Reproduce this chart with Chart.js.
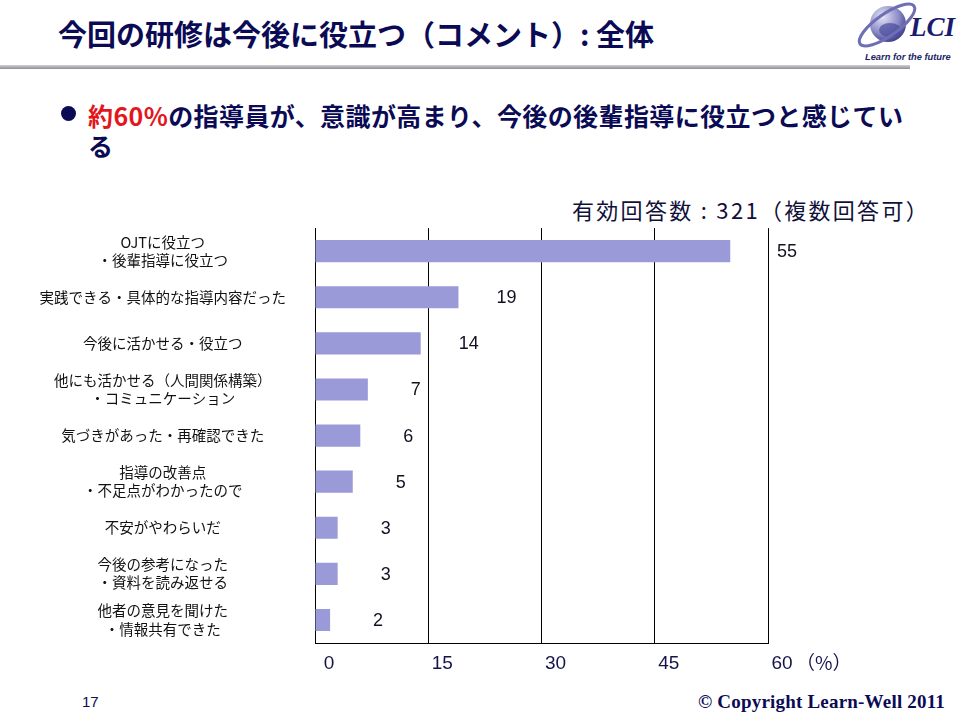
<!DOCTYPE html>
<html>
<head>
<meta charset="utf-8">
<script src="https://cdn.jsdelivr.net/npm/chart.js@4.4.1/dist/chart.umd.min.js"></script>
<style>
    body { margin: 0; width: 960px; height: 720px; position: relative; overflow: hidden; background: #fff;
           font-family: "Noto Sans CJK JP", sans-serif; }
    .abs { position: absolute; white-space: nowrap; }
    #title { left: 58px; top: 13px; font-size: 29px; font-weight: bold; color: #0b0b55; line-height: 40px; }
    #rule { left: 0; top: 65px; width: 910px; height: 4px; background: linear-gradient(to bottom, #cfcfd4, #8e8e96); }
    #lci { left: 910px; top: 12px; font: italic bold 27px "Liberation Serif", serif; color: #1a1a6e; }
    #tagline { left: 865px; top: 52px; font: italic bold 9.3px "Liberation Sans", sans-serif; color: #1a2466; }
    #dot { left: 61px; top: 106px; width: 15px; height: 15px; border-radius: 50%; background: #0b0b55; }
    #lead { left: 88px; top: 100px; font-size: 25px; font-weight: bold; color: #0b0b55; line-height: 30px; letter-spacing: 0.4px; }
    #lead .red { color: #e3161c; }
    #note { left: 572px; top: 193px; font-size: 22px; color: #10103a; letter-spacing: 2.3px; line-height: 32px; }
    #wrap { left: 0; top: 210px; }
    #page { left: 82px; top: 693px; font: 15px "Liberation Sans", sans-serif; color: #0b0b55; }
    #copy { left: 698px; top: 691px; font: bold 19px "Liberation Serif", serif; color: #0b0b55; letter-spacing: 0.2px; }
</style>
</head>
<body>
<div id="title" class="abs">今回の研修は今後に役立つ（コメント）: 全体</div>
<div id="rule" class="abs"></div>
<svg class="abs" style="left:850px;top:0" width="80" height="50">
    <defs>
        <radialGradient id="sph" cx="0.35" cy="0.3" r="0.75">
            <stop offset="0" stop-color="#e4e4f4"/>
            <stop offset="0.6" stop-color="#8c8cc8"/>
            <stop offset="1" stop-color="#3c3c8c"/>
        </radialGradient>
    </defs>
    <circle cx="38" cy="24" r="18" fill="url(#sph)"/>
    <ellipse cx="40" cy="30" rx="11" ry="7" fill="#4a4a9c" opacity="0.7"/>
    <ellipse cx="37" cy="25" rx="33" ry="11" fill="none" stroke="#6e6eb4" stroke-width="3" transform="rotate(-35 37 25)"/>
</svg>
<div id="lci" class="abs">LCI</div>
<div id="tagline" class="abs">Learn for the future</div>
<div id="dot" class="abs"></div>
<div id="lead" class="abs"><span class="red">約60%</span>の指導員が、意識が高まり、今後の後輩指導に役立つと感じてい<br>る</div>
<div id="note" class="abs">有効回答数 : 321（複数回答可）</div>
<div id="wrap" class="abs"><canvas id="chart" width="900" height="480"></canvas></div>
<div id="page" class="abs">17</div>
<div id="copy" class="abs">© Copyright Learn-Well 2011</div>

<script>
const categories = [
    ['OJTに役立つ', '・後輩指導に役立つ'],
    '実践できる・具体的な指導内容だった',
    '今後に活かせる・役立つ',
    ['他にも活かせる（人間関係構築）', '・コミュニケーション'],
    '気づきがあった・再確認できた',
    ['指導の改善点', '・不足点がわかったので'],
    '不安がやわらいだ',
    ['今後の参考になった', '・資料を読み返せる'],
    ['他者の意見を聞けた', '・情報共有できた']
];
const percentages = [55, 19, 14, 7, 6, 5, 3, 3, 2];
const xTickValues = [0, 15, 30, 45, 60];
const unitLabel = '（%）';

const navy = '#14144a';

// value labels to the right of each bar, plus the unit after the last tick
const barLabels = {
    id: 'barLabels',
    afterDatasetsDraw(chart) {
        const ctx = chart.ctx;
        const area = chart.chartArea;
        const meta = chart.getDatasetMeta(0);
        ctx.save();
        ctx.font = '18px "Liberation Sans", Arial, sans-serif';
        ctx.fillStyle = '#111122';
        ctx.textAlign = 'center';
        ctx.textBaseline = 'middle';
        meta.data.forEach((bar, i) => {
            let x = bar.x + 48;
            // keep clear of the right-hand gridline
            if (x > area.right - 14) x = area.right + 19;
            ctx.fillText(String(percentages[i]), x, bar.y + 1);
        });
        const xs = chart.scales.x;
        ctx.font = '19px "Noto Sans CJK JP", sans-serif';
        ctx.fillStyle = navy;
        ctx.textAlign = 'left';
        ctx.fillText(unitLabel, xs.getPixelForValue(xTickValues[xTickValues.length - 1]) + 28, xs.top + 20);
        ctx.restore();
    }
};

new Chart(document.getElementById('chart').getContext('2d'), {
    type: 'bar',
    data: {
        labels: categories,
        datasets: [{
            data: percentages,
            backgroundColor: '#9a9ad9',
            borderWidth: 0,
            barPercentage: 0.48,
            categoryPercentage: 1
        }]
    },
    options: {
        indexAxis: 'y',
        responsive: false,
        animation: false,
        devicePixelRatio: 1,
        layout: { padding: { top: 18, right: 132, bottom: 7, left: 0 } },
        plugins: {
            legend: { display: false },
            tooltip: { enabled: false }
        },
        scales: {
            x: {
                min: 0,
                max: 60,
                afterBuildTicks(scale) {
                    scale.ticks = xTickValues.map(v => ({ value: v }));
                },
                afterFit(scale) { scale.height = 40; },
                grid: { color: '#000', lineWidth: 1, drawTicks: false },
                border: { display: true, color: '#000', width: 1 },
                ticks: {
                    padding: 9,
                    labelOffset: 14,
                    color: navy,
                    font: { family: '"Liberation Sans", Arial, sans-serif', size: 19 }
                }
            },
            y: {
                afterFit(scale) { scale.width = 315; },
                // hidden tick length keeps the labels off the axis without adding top padding
                grid: { display: false, drawTicks: true, tickLength: 29 },
                border: { display: true, color: '#000', width: 1 },
                ticks: {
                    crossAlign: 'center',
                    padding: 0,
                    color: '#111',
                    font: { family: '"Noto Sans CJK JP", sans-serif', size: 14.5, lineHeight: 1.25 }
                }
            }
        }
    },
    plugins: [barLabels]
});
</script>
</body>
</html>
